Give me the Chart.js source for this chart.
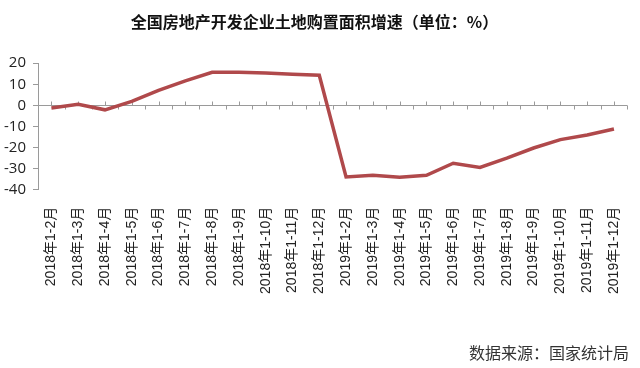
<!DOCTYPE html>
<html>
<head>
<meta charset="utf-8">
<script src="https://cdn.jsdelivr.net/npm/chart.js@4"></script>
<style>
  html, body { margin: 0; padding: 0; background: #fff; }
  #wrap { width: 640px; height: 368px; }
</style>
</head>
<body>
<div id="wrap"><canvas id="landChart"></canvas></div>
<script>
// ---- data ----
const months = ["1-2月", "1-3月", "1-4月", "1-5月", "1-6月", "1-7月", "1-8月", "1-9月", "1-10月", "1-11月", "1-12月"];
const labels2018 = months.map(m => "2018年" + m);
const labels2019 = months.map(m => "2019年" + m);
const categories = labels2018.concat(labels2019);

const growth2018 = [-1.2, 0.5, -2.1, 1.9, 7.1, 11.6, 15.7, 15.7, 15.3, 14.8, 14.3];
const growth2019 = [-33.9, -33.1, -34.0, -33.1, -27.4, -29.4, -25.0, -20.2, -16.2, -14.0, -11.2];
const growth = growth2018.concat(growth2019);

const yTicks = [20, 10, 0, -10, -20, -30, -40];

const AXIS = "#9a9a9a";
const LINE = "#b0494b";

// zero line with little tick marks, like the original category axis
const zeroAxis = {
  id: "zeroAxis",
  beforeDatasetsDraw(chart) {
    const { ctx, chartArea, scales: { x, y } } = chart;
    const y0 = Math.round(y.getPixelForValue(0)) + 0.5;
    const half = (x.getPixelForValue(1) - x.getPixelForValue(0)) / 2;
    ctx.save();
    ctx.strokeStyle = AXIS;
    ctx.lineWidth = 1;
    ctx.beginPath();
    ctx.moveTo(chartArea.left, y0);
    ctx.lineTo(chartArea.right, y0);
    for (let i = 0; i < categories.length; i++) {
      const cx = Math.round(x.getPixelForValue(i)) + 0.5;
      ctx.moveTo(cx, y0 - 4);
      ctx.lineTo(cx, y0);
      const bx = Math.round(x.getPixelForValue(i) + half) + 0.5;
      ctx.moveTo(bx, y0);
      ctx.lineTo(bx, y0 + 4);
    }
    ctx.stroke();
    ctx.restore();
  }
};

new Chart(document.getElementById("landChart"), {
  type: "line",
  data: {
    labels: categories,
    datasets: [{
      data: growth,
      borderColor: LINE,
      borderWidth: 3.5,
      pointRadius: 0,
      tension: 0,
      fill: false
    }]
  },
  options: {
    responsive: true,
    maintainAspectRatio: false,
    animation: false,
    layout: { padding: { left: 0, right: 11, top: 0, bottom: 0 } },
    plugins: {
      legend: { display: false },
      tooltip: { enabled: false },
      title: {
        display: true,
        text: "全国房地产开发企业土地购置面积增速（单位：%）",
        color: "#111",
        font: { family: "'Noto Sans CJK SC', sans-serif", size: 16, weight: "bold" },
        padding: { top: 12, bottom: 32 }
      },
      subtitle: {
        display: true,
        position: "bottom",
        align: "end",
        text: "数据来源：国家统计局",
        color: "#333",
        font: { family: "'Noto Sans CJK SC', sans-serif", size: 16 },
        padding: { top: 0, bottom: 5 }
      }
    },
    scales: {
      x: {
        offset: true,
        grid: { display: false },
        border: { display: false },
        afterFit: s => { s.height = 154; },
        ticks: {
          autoSkip: false,
          minRotation: 90,
          maxRotation: 90,
          padding: 9,
          color: "#222",
          font: { family: "'Liberation Sans', 'Noto Sans CJK SC', sans-serif", size: 14 }
        }
      },
      y: {
        min: -40,
        max: 20,
        afterFit: s => { s.width = 38; },
        afterBuildTicks: s => { s.ticks = yTicks.map(v => ({ value: v })); },
        border: { display: true, color: AXIS, width: 1 },
        grid: { drawOnChartArea: false, drawTicks: true, tickLength: 5, color: AXIS },
        ticks: {
          padding: 7,
          color: "#222",
          font: { family: "'Open Sans', 'Liberation Sans', sans-serif", size: 15 }
        }
      }
    }
  },
  plugins: [zeroAxis]
});
</script>
</body>
</html>
